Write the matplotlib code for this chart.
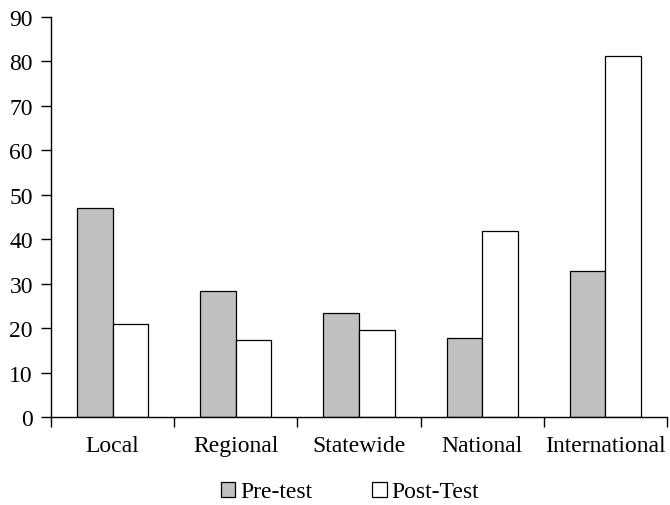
import numpy as np
import matplotlib
matplotlib.use('Agg')
import matplotlib.pyplot as plt
from matplotlib.patches import Patch

plt.rcParams['font.family'] = ['Liberation Serif', 'DejaVu Serif']

CATEGORIES = ['Local', 'Regional', 'Statewide', 'National', 'International']
PRE_TEST = [47.0, 28.4, 23.5, 17.8, 32.9]
POST_TEST = [21.0, 17.3, 19.6, 41.8, 81.3]

BAR_W = 0.289
FS = 17

fig = plt.figure(figsize=(6.7, 5.06), dpi=100)
ax = fig.add_axes([51 / 670, 1 - 418 / 506, (667 - 51) / 670, 400 / 506])

x = np.arange(len(CATEGORIES))
ax.bar(x - BAR_W / 2, PRE_TEST, BAR_W, color='#c0c0c0', edgecolor='black', linewidth=0.9, label='Pre-test')
ax.bar(x + BAR_W / 2, POST_TEST, BAR_W, color='white', edgecolor='black', linewidth=0.9, label='Post-Test')

ax.set_xlim(-0.5, len(CATEGORIES) - 0.5)
ax.set_ylim(0, 90)
ax.set_yticks(range(0, 91, 10))

# boundary ticks as major, category names as minor ticks
ax.set_xticks(np.arange(-0.5, len(CATEGORIES), 1.0))
ax.set_xticklabels([])
ax.set_xticks(x, minor=True)
ax.set_xticklabels(CATEGORIES, minor=True)
ax.tick_params(axis='x', which='minor', length=0, pad=13, labelsize=FS)
ax.tick_params(axis='x', which='major', direction='out', length=7, width=1)
ax.tick_params(axis='y', direction='out', length=7, width=1, labelsize=FS, pad=6)

for side in ['top', 'right']:
    ax.spines[side].set_visible(False)
for side in ['left', 'bottom']:
    ax.spines[side].set_linewidth(1)

handles = [Patch(facecolor='#c0c0c0', edgecolor='black', linewidth=0.9, label='Pre-test'),
           Patch(facecolor='white', edgecolor='black', linewidth=0.9, label='Post-Test')]
fig.legend(handles=handles, loc='center', bbox_to_anchor=(350 / 670, 1 - 493 / 506),
           ncol=2, frameon=False, fontsize=FS, handlelength=0.62, handleheight=0.62,
           handletextpad=0.2, columnspacing=2.55, borderpad=0.1)

fig.savefig('out.png', dpi=100)
